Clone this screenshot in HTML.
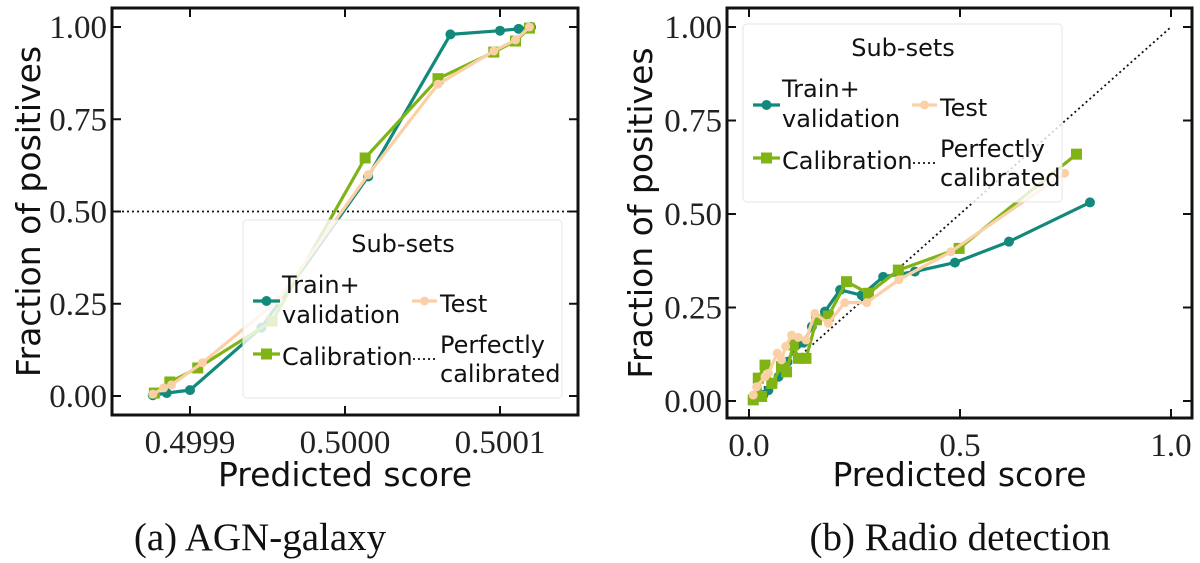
<!DOCTYPE html>
<html><head><meta charset="utf-8"><style>
html,body{margin:0;padding:0;background:#fff;}
svg{display:block;}
.tk{font-family:"Liberation Serif",serif;font-size:33px;fill:#222;}
.al{font-family:"DejaVu Sans","Liberation Sans",sans-serif;font-size:33px;fill:#111;}
.lg{font-family:"DejaVu Sans","Liberation Sans",sans-serif;font-size:24px;fill:#111;}
.cap{font-family:"Liberation Serif",serif;font-size:39px;fill:#111;}
</style></head><body>
<svg id="fig" width="1200" height="563" viewBox="0 0 1200 563"></svg>
<script>
// Panel (a) AGN-galaxy data
const aTrainX=[0.499876,0.499885,0.4999,0.499946,0.500015,0.500068,0.5001,0.500112,0.50012];
const aTrainY=[0.002,0.008,0.016,0.185,0.595,0.98,0.99,0.995,1.0];
const aCalX=[0.499877,0.499887,0.499905,0.499953,0.500013,0.50006,0.500096,0.50011,0.500119];
const aCalY=[0.008,0.038,0.076,0.203,0.645,0.86,0.932,0.962,0.997];
const aTestX=[0.499876,0.499883,0.499888,0.499908,0.499957,0.500015,0.50006,0.500096,0.50011,0.500119];
const aTestY=[0.005,0.022,0.03,0.09,0.26,0.6,0.845,0.935,0.965,1.0];
const aXTicks=[0.4999,0.5,0.5001];
const aXTickLabels=["0.4999","0.5000","0.5001"];
const yTicks=[0,0.25,0.5,0.75,1.0];
const yTickLabels=["0.00","0.25","0.50","0.75","1.00"];
// Panel (b) Radio detection data
const bTrainX=[0.01,0.034,0.046,0.056,0.07,0.091,0.113,0.129,0.149,0.18,0.216,0.267,0.318,0.393,0.488,0.616,0.808];
const bTrainY=[0.003,0.016,0.029,0.047,0.065,0.105,0.15,0.156,0.199,0.239,0.297,0.283,0.332,0.346,0.37,0.426,0.531];
const bCalX=[0.01,0.03,0.022,0.038,0.054,0.077,0.089,0.105,0.117,0.135,0.16,0.188,0.231,0.283,0.354,0.498,0.776];
const bCalY=[0.003,0.012,0.061,0.096,0.047,0.092,0.078,0.15,0.114,0.114,0.217,0.227,0.319,0.288,0.35,0.408,0.66];
const bTestX=[0.01,0.018,0.038,0.046,0.067,0.077,0.087,0.101,0.117,0.135,0.156,0.188,0.227,0.279,0.355,0.478,0.748];
const bTestY=[0.016,0.038,0.065,0.074,0.128,0.11,0.146,0.176,0.17,0.163,0.234,0.208,0.263,0.263,0.324,0.399,0.609];
const bXTicks=[0,0.5,1.0];
const bXTickLabels=["0.0","0.5","1.0"];

const NS="http://www.w3.org/2000/svg";
const svg=document.getElementById('fig');
function mk(tag,attrs,parent){const e=document.createElementNS(NS,tag);for(const k in attrs)e.setAttribute(k,attrs[k]);(parent||svg).appendChild(e);return e;}
const TEAL="#12897a",GREEN="#80b414",PEACH="#fbd0a6";

function panel(cfg){
  const g=mk('g',{});
  
  
  const sx=v=>cfg.x0+(v-cfg.xa)/(cfg.xb-cfg.xa)*(cfg.x1-cfg.x0);
  const sy=v=>cfg.y0-(v-0)/(1-0)*(cfg.y0-cfg.y1);
  const ref=mk('line',cfg.refLine(sx,sy),g);
  ref.setAttribute('stroke','#111');ref.setAttribute('stroke-width','1.8');ref.setAttribute('stroke-dasharray','2 3');
  
  
  const series=[
    {n:'train-validation',xs:cfg.trX,ys:cfg.trY,c:TEAL,m:'c',r:5},
    {n:'calibration',xs:cfg.caX,ys:cfg.caY,c:GREEN,m:'s',r:5.5},
    {n:'test',xs:cfg.teX,ys:cfg.teY,c:PEACH,m:'c',r:4.5}
  ];
  for(const s of series){
    const sg=mk('g',{},g);
    
    
    const pts=s.xs.map((x,i)=>sx(x).toFixed(1)+','+sy(s.ys[i]).toFixed(1)).join(' ');
    const pl=mk('polyline',{points:pts,fill:'none',stroke:s.c,'stroke-width':3.2,'stroke-linejoin':'round'},sg);
    
    
    s.xs.forEach((x,i)=>{
      let m;
      if(s.m==='c') m=mk('circle',{cx:sx(x),cy:sy(s.ys[i]),r:s.r,fill:s.c},sg);
      else m=mk('rect',{x:sx(x)-s.r,y:sy(s.ys[i])-s.r,width:2*s.r,height:2*s.r,fill:s.c},sg);
      
      
    });
  }
  const fr=mk('rect',{x:cfg.x0,y:cfg.y1-19,width:cfg.x1-cfg.x0+cfg.padR,height:cfg.y0-cfg.y1+19+cfg.padB,fill:'none',stroke:'#111','stroke-width':3},g);
  
  
  const top=cfg.y1-19,bot=cfg.y0+cfg.padB,right=cfg.x1+cfg.padR;
  cfg.xt.forEach((v,i)=>{
    const x=sx(v);
    mk('line',{x1:x,y1:bot,x2:x,y2:bot-9,stroke:'#111','stroke-width':2},g);
    mk('line',{x1:x,y1:top,x2:x,y2:top+9,stroke:'#111','stroke-width':2},g);
    const t=mk('text',{x:x,y:bot+38,'text-anchor':'middle',class:'tk'},g);
    t.textContent=cfg.xtl[i];
    
    
  });
  yTicks.forEach((v,i)=>{
    const y=sy(v);
    mk('line',{x1:cfg.x0,y1:y,x2:cfg.x0+9,y2:y,stroke:'#111','stroke-width':2},g);
    mk('line',{x1:right,y1:y,x2:right-9,y2:y,stroke:'#111','stroke-width':2},g);
    const t=mk('text',{x:cfg.x0-5,y:y+11,'text-anchor':'end',class:'tk'},g);
    t.textContent=yTickLabels[i];
    
    
  });
  const xl=mk('text',{x:(cfg.x0+right)/2,y:486,'text-anchor':'middle',class:'al'},g);
  xl.textContent='Predicted score';
  
  
  const yl=mk('text',{x:0,y:0,'text-anchor':'middle',class:'al',transform:`translate(${cfg.ylx},${(top+bot)/2}) rotate(-90)`},g);
  yl.textContent='Fraction of positives';
  
  
  const cp=mk('text',{x:cfg.capX,y:550,'text-anchor':'middle',class:'cap'},g);
  cp.textContent=cfg.cap;
  
  
  const lx=cfg.lx,ly=cfg.ly;
  const lg=mk('g',{},g);
  
  
  mk('rect',{x:lx,y:ly,width:319,height:178,rx:4,fill:'rgba(255,255,255,0.8)',stroke:'#e6e6e6','stroke-width':1},lg);
  const T=(tx,x,y,anchor)=>{const t=mk('text',{x:x,y:y,class:'lg','text-anchor':anchor||'start'},lg);t.textContent=tx;return t;};
  T('Sub-sets',lx+160,ly+32,'middle');
  mk('line',{x1:lx+10,y1:ly+81,x2:lx+37,y2:ly+81,stroke:TEAL,'stroke-width':3.2},lg);
  mk('circle',{cx:lx+23.5,cy:ly+81,r:5,fill:TEAL},lg);
  T('Train+',lx+39,ly+73);T('validation',lx+39,ly+103);
  mk('line',{x1:lx+169,y1:ly+81,x2:lx+194,y2:ly+81,stroke:PEACH,'stroke-width':3.2},lg);
  mk('circle',{cx:lx+181.5,cy:ly+81,r:4.5,fill:PEACH},lg);
  T('Test',lx+197,ly+92);
  mk('line',{x1:lx+10,y1:ly+134,x2:lx+37,y2:ly+134,stroke:GREEN,'stroke-width':3.2},lg);
  mk('rect',{x:lx+18,y:ly+128.5,width:11,height:11,fill:GREEN},lg);
  T('Calibration',lx+39,ly+145);
  mk('line',{x1:lx+170,y1:ly+139,x2:lx+194,y2:ly+139,stroke:'#111','stroke-width':1.8,'stroke-dasharray':'2 3'},lg);
  T('Perfectly',lx+197,ly+133);T('calibrated',lx+197,ly+162);
}

panel({name:'panel-a-agn-galaxy',x0:112,x1:500,xa:0.49984968,xb:0.5001,y0:396,y1:27,padR:78,padB:19,
  xt:aXTicks,xtl:aXTickLabels,trX:aTrainX,trY:aTrainY,caX:aCalX,caY:aCalY,teX:aTestX,teY:aTestY,
  refLine:(sx,sy)=>({x1:112,y1:sy(0.5),x2:578,y2:sy(0.5)}),ylx:40,capX:260,cap:'(a) AGN-galaxy',lx:243,ly:220});
panel({name:'panel-b-radio-detection',x0:727,x1:1171,xa:-0.0521,xb:1.0,y0:401,y1:27,padR:21,padB:17,
  xt:bXTicks,xtl:bXTickLabels,trX:bTrainX,trY:bTrainY,caX:bCalX,caY:bCalY,teX:bTestX,teY:bTestY,
  refLine:(sx,sy)=>({x1:sx(0),y1:sy(0),x2:sx(1),y2:sy(1)}),ylx:652,capX:960,cap:'(b) Radio detection',lx:743,ly:24});
</script>
</body></html>
